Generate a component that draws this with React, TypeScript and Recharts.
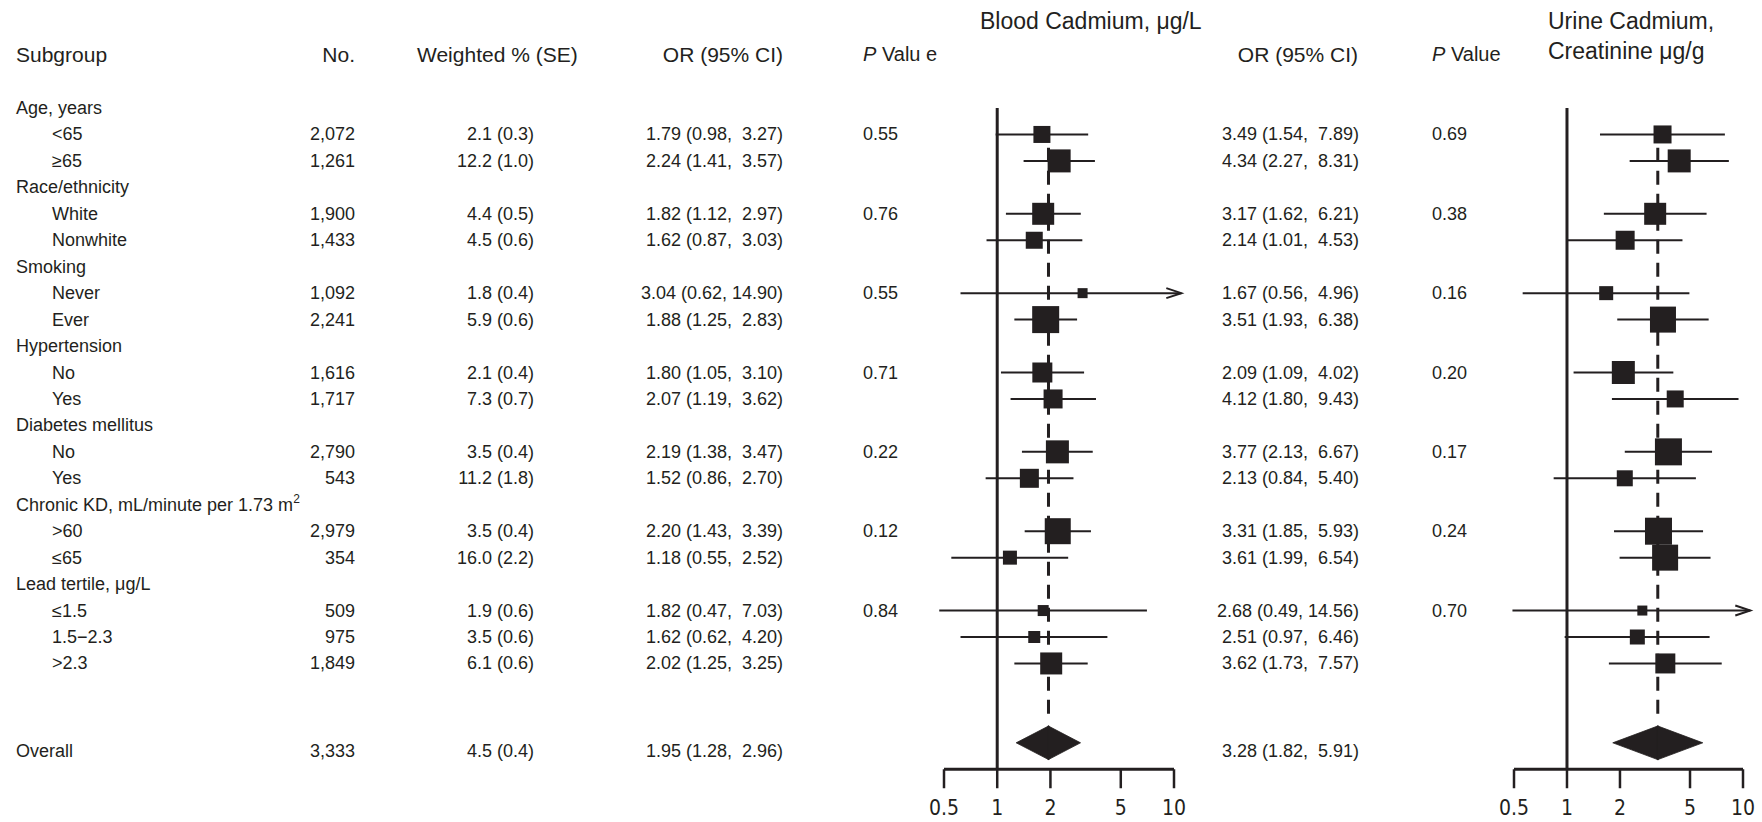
import React from 'react';
import { ComposedChart, Scatter, XAxis, YAxis, ReferenceLine } from 'recharts';

// ---- data (row order top to bottom, null = section heading) ----
const rowLabels = [
  'Age, years', '<65', '≥65',
  'Race/ethnicity', 'White', 'Nonwhite',
  'Smoking', 'Never', 'Ever',
  'Hypertension', 'No', 'Yes',
  'Diabetes mellitus', 'No', 'Yes',
  'Chronic KD, mL/minute per 1.73 m', '>60', '≤65',
  'Lead tertile, μg/L', '≤1.5', '1.5−2.3', '>2.3',
];
const rowSup = ['', '', '', '', '', '', '', '', '', '', '', '', '', '', '', '2', '', '', '', '', '', ''];
const counts = [null, 2072, 1261, null, 1900, 1433, null, 1092, 2241, null, 1616, 1717, null, 2790, 543, null, 2979, 354, null, 509, 975, 1849];
const weightedPct = [null, 2.1, 12.2, null, 4.4, 4.5, null, 1.8, 5.9, null, 2.1, 7.3, null, 3.5, 11.2, null, 3.5, 16.0, null, 1.9, 3.5, 6.1];
const weightedSE = [null, 0.3, 1.0, null, 0.5, 0.6, null, 0.4, 0.6, null, 0.4, 0.7, null, 0.4, 1.8, null, 0.4, 2.2, null, 0.6, 0.6, 0.6];

const bloodOR = [null, 1.79, 2.24, null, 1.82, 1.62, null, 3.04, 1.88, null, 1.80, 2.07, null, 2.19, 1.52, null, 2.20, 1.18, null, 1.82, 1.62, 2.02];
const bloodLo = [null, 0.98, 1.41, null, 1.12, 0.87, null, 0.62, 1.25, null, 1.05, 1.19, null, 1.38, 0.86, null, 1.43, 0.55, null, 0.47, 0.62, 1.25];
const bloodHi = [null, 3.27, 3.57, null, 2.97, 3.03, null, 14.90, 2.83, null, 3.10, 3.62, null, 3.47, 2.70, null, 3.39, 2.52, null, 7.03, 4.20, 3.25];
const bloodP = [null, 0.55, null, null, 0.76, null, null, 0.55, null, null, 0.71, null, null, 0.22, null, null, 0.12, null, null, 0.84, null, null];
const bloodWeight = [null, 17, 23, null, 22, 17, null, 10, 27, null, 20, 19, null, 23, 19, null, 26, 14, null, 11, 12, 22];

const urineOR = [null, 3.49, 4.34, null, 3.17, 2.14, null, 1.67, 3.51, null, 2.09, 4.12, null, 3.77, 2.13, null, 3.31, 3.61, null, 2.68, 2.51, 3.62];
const urineLo = [null, 1.54, 2.27, null, 1.62, 1.01, null, 0.56, 1.93, null, 1.09, 1.80, null, 2.13, 0.84, null, 1.85, 1.99, null, 0.49, 0.97, 1.73];
const urineHi = [null, 7.89, 8.31, null, 6.21, 4.53, null, 4.96, 6.38, null, 4.02, 9.43, null, 6.67, 5.40, null, 5.93, 6.54, null, 14.56, 6.46, 7.57];
const urineP = [null, 0.69, null, null, 0.38, null, null, 0.16, null, null, 0.20, null, null, 0.17, null, null, 0.24, null, null, 0.70, null, null];
const urineWeight = [null, 18, 23, null, 22, 19, null, 14, 26, null, 23, 17, null, 27, 16, null, 27, 26, null, 10, 15, 20];

const overallN = 3333;
const overallPct = 4.5;
const overallSE = 0.4;
const bloodOverall = [1.95, 1.28, 2.96];
const urineOverall = [3.28, 1.82, 5.91];

const axisTicks = [0.5, 1, 2, 5, 10];

// ---- layout ----
const W = 1762;
const H = 822;
const INK = '#231f20';
const FONT = "'Liberation Sans', Arial, Helvetica, sans-serif";
const NARROW = "'Liberation Sans Narrow', 'DejaVu Sans Condensed', Arial, sans-serif";
const ROW0_Y = 108;
const ROW_H = 26.45;
const Y_MIN = -1;
const Y_MAX = 25;
const DIAMOND_ROW = 24.0;
const OVERALL_TEXT_ROW = 24.3;
const AX_MIN = 0.45;
const AX_MAX = 12;
const ARROW_CAP = 11; // CIs running past 10 are cut here and get an arrow
const rowY = (r: number) => ROW0_Y + ROW_H * r;

const fmtOR = (or: number, lo: number, hi: number) =>
  `${or.toFixed(2)} (${lo.toFixed(2)}, ${hi.toFixed(2).padStart(5, ' ')})`;

function Txt({
  x,
  y,
  align = 'left',
  size = 18,
  style,
  children,
}: {
  x: number;
  y: number;
  align?: 'left' | 'right';
  size?: number;
  style?: React.CSSProperties;
  children: React.ReactNode;
}) {
  const s: React.CSSProperties = {
    position: 'absolute',
    top: y,
    transform: 'translateY(-50%)',
    fontSize: size,
    lineHeight: 1,
    whiteSpace: 'pre',
    color: INK,
    fontFamily: FONT,
    ...style,
  };
  if (align === 'left') s.left = x;
  else s.right = W - x;
  return <div style={s}>{children}</div>;
}

const ciShape = (arrow: boolean) => (p: any) => (
  <g>
    <line x1={p.x1} y1={p.y1} x2={p.x2} y2={p.y2} stroke={INK} strokeWidth={2} />
    {arrow && (
      <polyline
        points={`${p.x2 - 15},${p.y2 - 5} ${p.x2},${p.y2} ${p.x2 - 15},${p.y2 + 5}`}
        fill="none"
        stroke={INK}
        strokeWidth={2}
      />
    )}
  </g>
);

const diamondLeft = (p: any) => (
  <polygon
    points={`${p.x1},${p.y1} ${p.x2 + 0.5},${p.y2 - 17} ${p.x2 + 0.5},${p.y2 + 17}`}
    fill={INK}
    stroke={INK}
    strokeWidth={0.8}
  />
);
const diamondRight = (p: any) => (
  <polygon
    points={`${p.x1 - 0.5},${p.y1 - 17} ${p.x2},${p.y2} ${p.x1 - 0.5},${p.y1 + 17}`}
    fill={INK}
    stroke={INK}
    strokeWidth={0.8}
  />
);

const boxShape = (p: any) => {
  const s = p.payload.w;
  return <rect x={p.cx - s / 2} y={p.cy - s / 2} width={s} height={s} fill={INK} />;
};

function ForestPanel({
  x05,
  x10,
  left,
  width,
  or,
  lo,
  hi,
  weight,
  overall,
}: {
  x05: number;
  x10: number;
  left: number;
  width: number;
  or: (number | null)[];
  lo: (number | null)[];
  hi: (number | null)[];
  weight: (number | null)[];
  overall: number[];
}) {
  const ppd = (x10 - x05) / Math.log10(10 / 0.5);
  const plotLeft = x05 - Math.log10(0.5 / AX_MIN) * ppd;
  const plotRight = x05 + Math.log10(AX_MAX / 0.5) * ppd;
  const margin = {
    top: rowY(Y_MIN),
    bottom: 0,
    left: plotLeft - left,
    right: left + width - plotRight,
  };
  const boxes = or
    .map((v, i) => (v == null ? null : { x: v, y: i, w: weight[i] }))
    .filter(Boolean) as { x: number; y: number; w: number }[];
  const rows = or.map((v, i) => i).filter((i) => or[i] != null);

  return (
    <div style={{ position: 'absolute', left, top: 0 }}>
      <ComposedChart width={width} height={H} margin={margin}>
        <XAxis
          type="number"
          dataKey="x"
          scale="log"
          domain={[AX_MIN, AX_MAX]}
          ticks={axisTicks}
          interval={0}
          axisLine={false}
          tickLine={{ stroke: INK, strokeWidth: 2.5 }}
          tickSize={19}
          tickMargin={12}
          height={H - rowY(Y_MAX)}
          tick={{ fill: INK, fontSize: 21, fontFamily: NARROW }}
        />
        <YAxis type="number" dataKey="y" domain={[Y_MIN, Y_MAX]} reversed hide />
        <ReferenceLine
          segment={[{ x: 0.5, y: Y_MAX }, { x: 10, y: Y_MAX }]}
          stroke={INK}
          strokeWidth={3}
        />
        <ReferenceLine
          segment={[{ x: 1, y: 0 }, { x: 1, y: Y_MAX }]}
          stroke={INK}
          strokeWidth={3}
        />
        <ReferenceLine
          segment={[{ x: overall[0], y: 1.5 }, { x: overall[0], y: 23.0 }]}
          stroke={INK}
          strokeWidth={3}
          strokeDasharray="14 9"
        />
        {rows.map((i) => {
          const h = hi[i] as number;
          const arrow = h > 10;
          return (
            <ReferenceLine
              key={`ci-${i}`}
              segment={[{ x: lo[i] as number, y: i }, { x: arrow ? ARROW_CAP : h, y: i }]}
              shape={ciShape(arrow)}
            />
          );
        })}
        <ReferenceLine
          segment={[{ x: overall[1], y: DIAMOND_ROW }, { x: overall[0], y: DIAMOND_ROW }]}
          shape={diamondLeft}
        />
        <ReferenceLine
          segment={[{ x: overall[0], y: DIAMOND_ROW }, { x: overall[2], y: DIAMOND_ROW }]}
          shape={diamondRight}
        />
        <Scatter data={boxes} shape={boxShape} isAnimationActive={false} />
      </ComposedChart>
    </div>
  );
}

export default function App() {
  const oy = rowY(OVERALL_TEXT_ROW);
  return (
    <div
      style={{
        position: 'fixed',
        left: 0,
        top: 0,
        width: W,
        height: H,
        background: '#fff',
        fontFamily: FONT,
        overflow: 'hidden',
      }}
    >
      {/* titles */}
      <Txt x={980} y={21} size={23}>Blood Cadmium, μg/L</Txt>
      <Txt x={1548} y={21} size={23}>Urine Cadmium,</Txt>
      <Txt x={1548} y={51} size={23}>Creatinine μg/g</Txt>

      {/* column headers */}
      <Txt x={16} y={54} size={21}>Subgroup</Txt>
      <Txt x={355} y={54} size={21} align="right">No.</Txt>
      <Txt x={417} y={54} size={21}>Weighted % (SE)</Txt>
      <Txt x={783} y={54} size={21} align="right">OR (95% CI)</Txt>
      <Txt x={863} y={54} size={20}>
        <i>P</i> Valu e
      </Txt>
      <Txt x={1358} y={54} size={21} align="right">OR (95% CI)</Txt>
      <Txt x={1432} y={54} size={20}>
        <i>P</i> Value
      </Txt>

      {/* table rows */}
      {rowLabels.map((label, i) => {
        const y = rowY(i);
        const heading = counts[i] == null;
        return (
          <React.Fragment key={i}>
            <Txt x={heading ? 16 : 52} y={y}>
              {label}
              {rowSup[i] && (
                <sup style={{ fontSize: 12, verticalAlign: 'top', position: 'relative', top: -3 }}>{rowSup[i]}</sup>
              )}
            </Txt>
            {!heading && (
              <>
                <Txt x={355} y={y} align="right">{(counts[i] as number).toLocaleString('en-US')}</Txt>
                <Txt x={534} y={y} align="right">
                  {`${(weightedPct[i] as number).toFixed(1)} (${(weightedSE[i] as number).toFixed(1)})`}
                </Txt>
                <Txt x={783} y={y} align="right">
                  {fmtOR(bloodOR[i] as number, bloodLo[i] as number, bloodHi[i] as number)}
                </Txt>
                {bloodP[i] != null && <Txt x={863} y={y}>{(bloodP[i] as number).toFixed(2)}</Txt>}
                <Txt x={1359} y={y} align="right">
                  {fmtOR(urineOR[i] as number, urineLo[i] as number, urineHi[i] as number)}
                </Txt>
                {urineP[i] != null && <Txt x={1432} y={y}>{(urineP[i] as number).toFixed(2)}</Txt>}
              </>
            )}
          </React.Fragment>
        );
      })}

      {/* overall row */}
      <Txt x={16} y={oy}>Overall</Txt>
      <Txt x={355} y={oy} align="right">{overallN.toLocaleString('en-US')}</Txt>
      <Txt x={534} y={oy} align="right">{`${overallPct.toFixed(1)} (${overallSE.toFixed(1)})`}</Txt>
      <Txt x={783} y={oy} align="right">
        {fmtOR(bloodOverall[0], bloodOverall[1], bloodOverall[2])}
      </Txt>
      <Txt x={1359} y={oy} align="right">
        {fmtOR(urineOverall[0], urineOverall[1], urineOverall[2])}
      </Txt>

      <ForestPanel
        x05={944}
        x10={1174}
        left={884}
        width={320}
        or={bloodOR}
        lo={bloodLo}
        hi={bloodHi}
        weight={bloodWeight}
        overall={bloodOverall}
      />
      <ForestPanel
        x05={1514}
        x10={1743}
        left={1454}
        width={W - 1454}
        or={urineOR}
        lo={urineLo}
        hi={urineHi}
        weight={urineWeight}
        overall={urineOverall}
      />
    </div>
  );
}
